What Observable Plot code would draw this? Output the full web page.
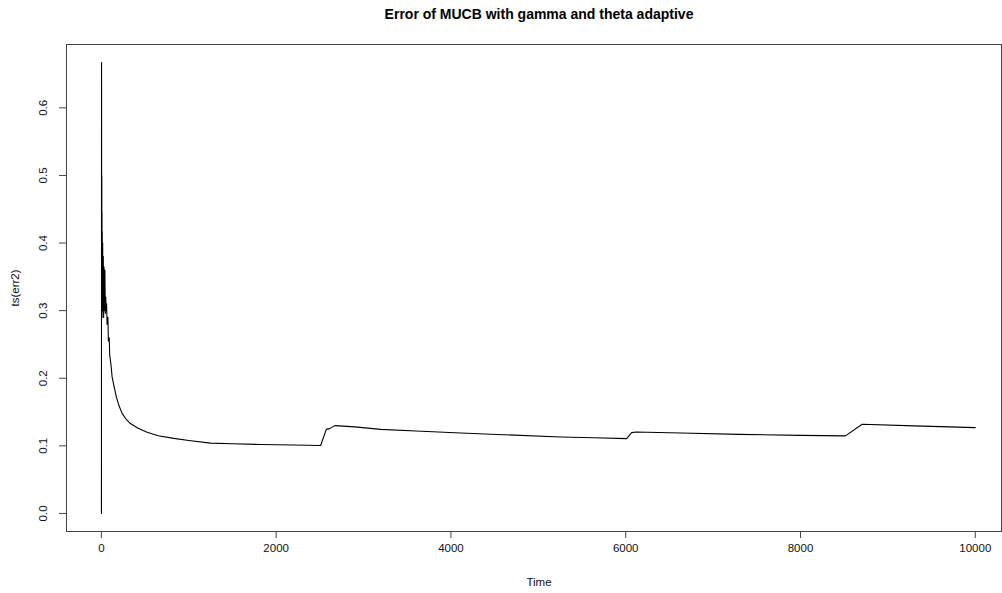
<!DOCTYPE html>
<html>
<head>
<meta charset="utf-8">
<script src="https://cdn.jsdelivr.net/npm/d3@7"></script>
<script src="https://cdn.jsdelivr.net/npm/@observablehq/plot@0.6"></script>
<style>
  html, body { margin: 0; padding: 0; background: #fff; }
  svg { display: block; }
</style>
</head>
<body>
<div id="chart"></div>
<script>
const titleText = "Error of MUCB with gamma and theta adaptive";
const xLabel = "Time";
const yLabel = "ts(err2)";
const xTicks = [0, 2000, 4000, 6000, 8000, 10000];
const yTicks = [0, 0.1, 0.2, 0.3, 0.4, 0.5, 0.6];

const time = [1,2,3,4,5,6,7,8,10,12,15,18,22,26,30,35,40,46,50,55,60,65,75,80,90,95,110,123,150,172,200,237,280,332,420,523,650,828,1000,1249,1500,1821,2200,2509,2574,2612,2672,2900,3196,3600,4112,4600,5258,5636,6010,6068,6117,6632,7300,8007,8514,8706,9300,10000];
const err2 = [0,0.667,0.5,0.29,0.5,0.32,0.445,0.29,0.417,0.30,0.40,0.30,0.38,0.29,0.365,0.30,0.36,0.296,0.32,0.30,0.31,0.28,0.29,0.255,0.26,0.235,0.22,0.202,0.185,0.172,0.160,0.148,0.140,0.133,0.126,0.120,0.115,0.111,0.108,0.104,0.103,0.102,0.1012,0.1005,0.1244,0.1255,0.1299,0.128,0.1244,0.122,0.119,0.1165,0.113,0.112,0.1107,0.1196,0.1204,0.119,0.117,0.1155,0.1148,0.1319,0.1295,0.127];

const data = time.map((t, i) => ({t, v: err2[i]}));
const font = "'Liberation Sans', Arial, Helvetica, sans-serif";

const chart = Plot.plot({
  width: 1002,
  height: 593,
  marginLeft: 66,
  marginRight: 1,
  marginTop: 44,
  marginBottom: 62,
  style: {fontFamily: font, fontSize: "11.5px", color: "#000", background: "#fff"},
  x: {domain: [-399, 10300]},
  y: {domain: [-0.0267, 0.6937]},
  marks: [
    Plot.frame({stroke: "#444", strokeWidth: 1}),
    Plot.axisX({ticks: xTicks, tickSize: 7, tickPadding: 5, tickFormat: d => String(d), stroke: "#444", fill: "#111", fontSize: 11.5, label: null}),
    Plot.axisY({ticks: yTicks, tickSize: 7, tickFormat: () => "", stroke: "#444", label: null}),
    Plot.text(yTicks, {y: d => d, text: d => d.toFixed(1), frameAnchor: "left", dx: -23, rotate: -90, textAnchor: "middle", lineAnchor: "middle", fontSize: 11.5, fill: "#111"}),
    Plot.line(data, {x: "t", y: "v", stroke: "#000", strokeWidth: 1.1}),
    Plot.text([titleText], {text: d => d, frameAnchor: "top", dy: -30, dx: 5, lineAnchor: "middle", fontWeight: "bold", fontSize: 14, fill: "#000"}),
    Plot.text([xLabel], {text: d => d, frameAnchor: "bottom", dy: 51, dx: 5, lineAnchor: "middle", fontSize: 11.5, fill: "#111"}),
    Plot.text([yLabel], {text: d => d, frameAnchor: "left", dx: -51, rotate: -90, lineAnchor: "middle", textAnchor: "middle", fontSize: 11.5, fill: "#111"})
  ]
});
document.getElementById("chart").appendChild(chart);
</script>
</body>
</html>
